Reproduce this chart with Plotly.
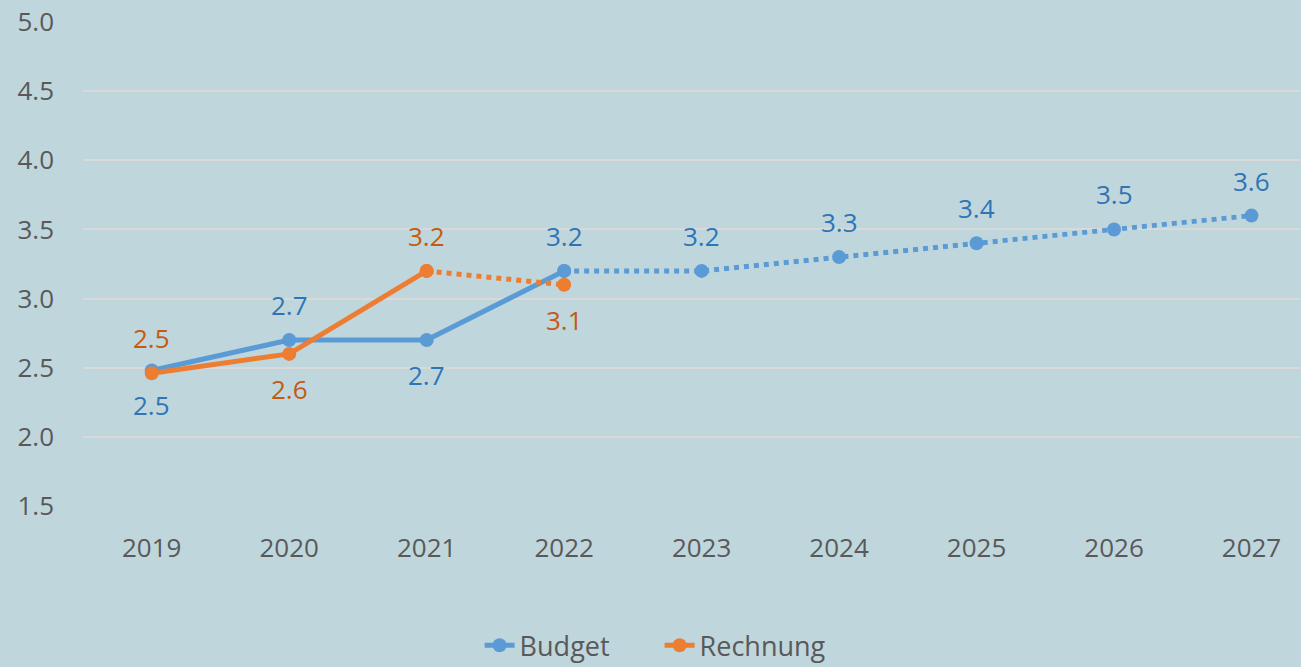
import plotly.graph_objects as go

years = ["2019", "2020", "2021", "2022", "2023", "2024", "2025", "2026", "2027"]
budget = [2.48, 2.70, 2.70, 3.20, 3.20, 3.30, 3.40, 3.50, 3.60]
rechnung = [2.46, 2.60, 3.20, 3.10]
# label placement: +1 above, -1 below
budget_pos = [-1, 1, -1, 1, 1, 1, 1, 1, 1]
rechnung_pos = [1, -1, 1, -1]

BLUE = "#5B9BD5"
ORANGE = "#ED7D31"
BLUE_TXT = "#2E75B6"
ORANGE_TXT = "#C55A11"
BG = "#C0D6DD"
FONT = "Open Sans"

fig = go.Figure()

fig.add_trace(go.Scatter(x=years[:4], y=budget[:4], mode="lines+markers", name="Budget",
                         line=dict(color=BLUE, width=5), marker=dict(size=14, color=BLUE)))
fig.add_trace(go.Scatter(x=years[3:], y=budget[3:], mode="lines+markers", showlegend=False,
                         line=dict(color=BLUE, width=5, dash="dot"), marker=dict(size=14, color=BLUE)))
fig.add_trace(go.Scatter(x=years[:3], y=rechnung[:3], mode="lines+markers", name="Rechnung",
                         line=dict(color=ORANGE, width=5), marker=dict(size=14, color=ORANGE)))
fig.add_trace(go.Scatter(x=years[2:4], y=rechnung[2:4], mode="lines+markers", showlegend=False,
                         line=dict(color=ORANGE, width=5, dash="dot"), marker=dict(size=14, color=ORANGE)))

annotations = []
for i, (v, p) in enumerate(zip(budget, budget_pos)):
    annotations.append(dict(x=i, y=v, xref="x", yref="y", text=f"{v:.1f}", showarrow=False,
                            yshift=35 * p, font=dict(family=FONT, size=26, color=BLUE_TXT)))
for i, (v, p) in enumerate(zip(rechnung, rechnung_pos)):
    annotations.append(dict(x=i, y=v, xref="x", yref="y", text=f"{v:.1f}", showarrow=False,
                            yshift=35 * p, font=dict(family=FONT, size=26, color=ORANGE_TXT)))

fig.update_layout(
    width=1301, height=667,
    paper_bgcolor=BG, plot_bgcolor=BG,
    margin=dict(l=83, r=0, t=22, b=161),
    font=dict(family=FONT, size=26, color="#595959"),
    showlegend=True,
    legend=dict(orientation="h", x=0.507, xanchor="center", xref="container",
                y=0.032, yanchor="middle", yref="container",
                font=dict(family=FONT, size=27, color="#595959"), bgcolor="rgba(0,0,0,0)",
                traceorder="normal", entrywidth=135, entrywidthmode="pixels"),
    annotations=annotations,
)
fig.update_xaxes(type="category", range=[-0.5, 8.36], showgrid=False, zeroline=False,
                 showline=False, ticks="", ticklabelstandoff=24, automargin=False,
                 tickfont=dict(family=FONT, size=26, color="#595959"))
fig.update_yaxes(range=[1.5, 5.0], dtick=0.5, tickformat=".1f", showgrid=True,
                 gridcolor="#D9D9D9", gridwidth=1.5, zeroline=False, showline=False,
                 ticks="", ticklabelstandoff=28, automargin=False,
                 tickfont=dict(family=FONT, size=26, color="#595959"))

fig.write_html("out.html", config={"displayModeBar": False},
               post_script="document.body.style.margin='0';")
